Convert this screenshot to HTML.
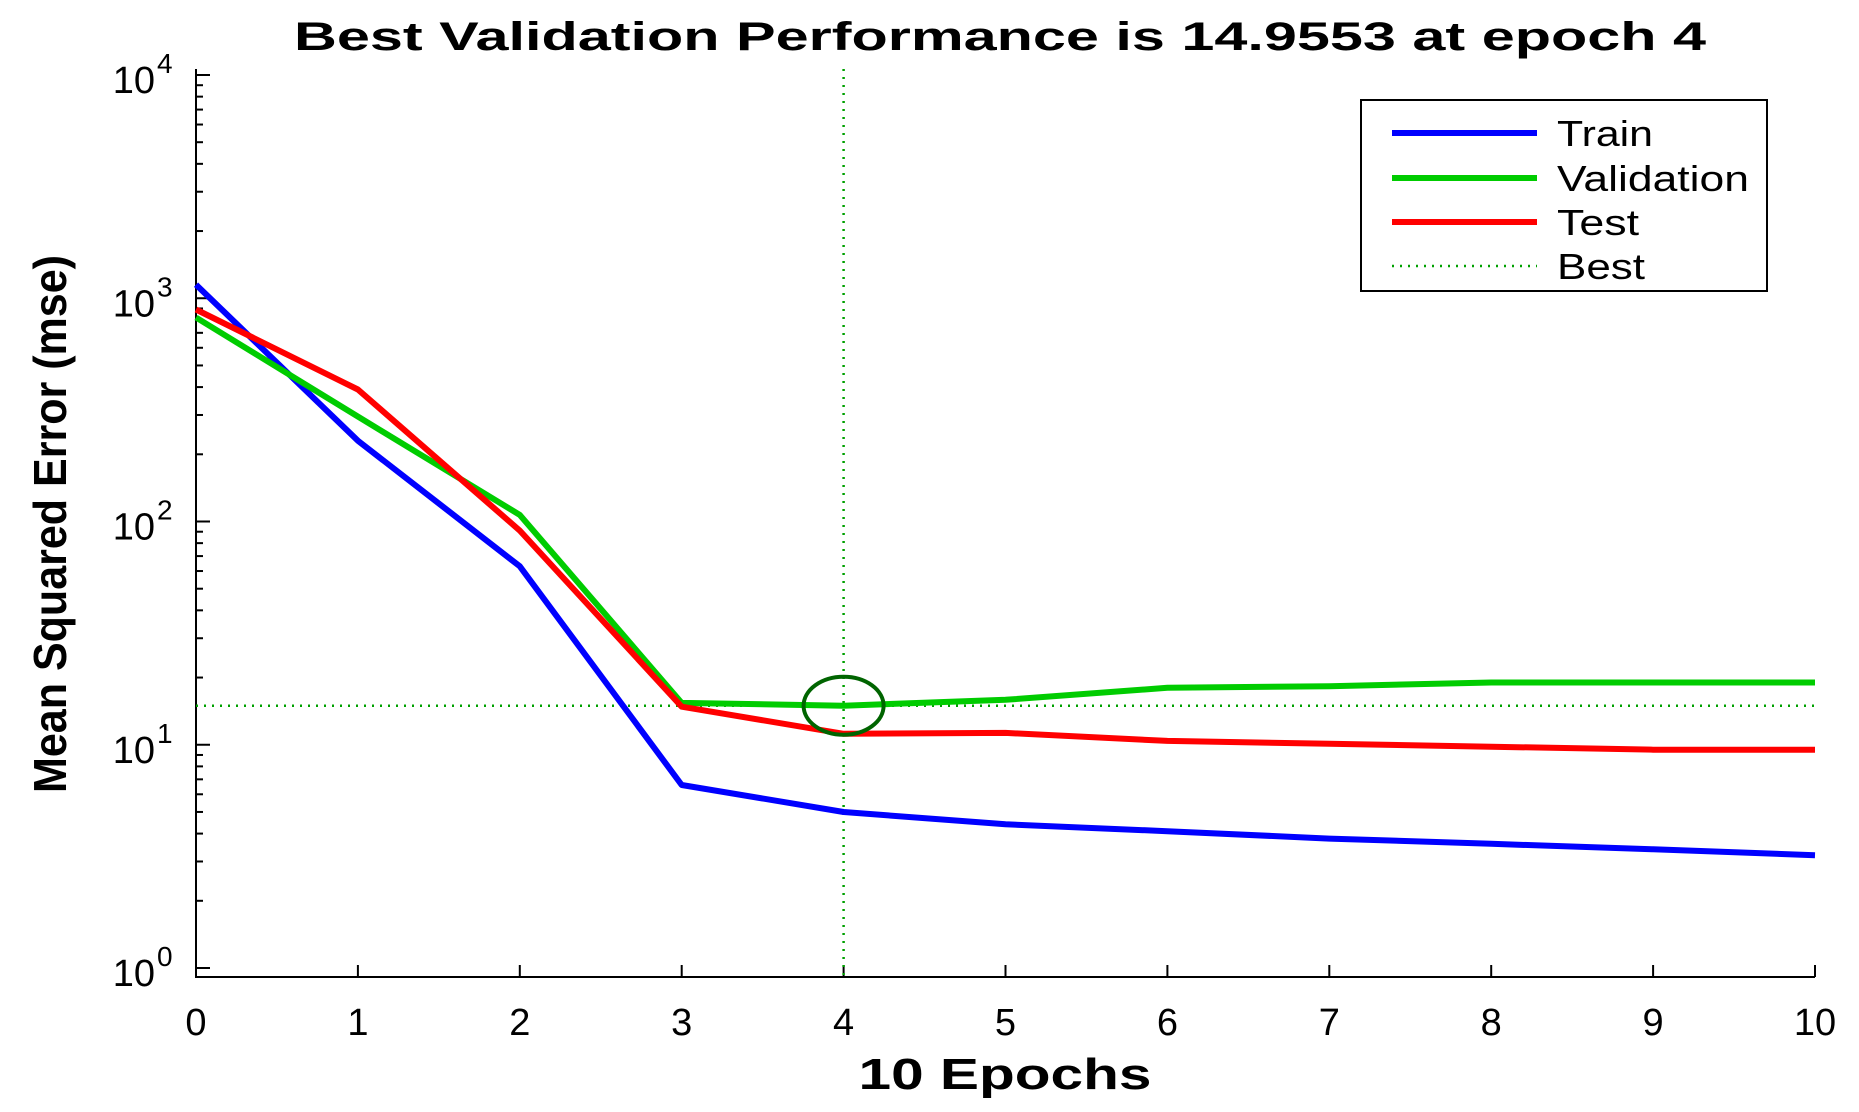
<!DOCTYPE html>
<html><head><meta charset="utf-8"><style>
html,body{margin:0;padding:0;background:#fff;}
svg{display:block;font-family:"Liberation Sans",Arial,sans-serif;}
</style></head><body>
<svg id="chart" width="1859" height="1112" viewBox="0 0 1859 1112">
<g id="g"></g>
</svg>
<script>
const epochs=[0,1,2,3,4,5,6,7,8,9,10];
const trainVals=[1150,230,63,6.6,5.0,4.4,4.1,3.8,3.6,3.4,3.2];
const valVals=[820,295,107,15.4,14.9553,15.9,18,18.3,19,19,19];
const testVals=[890,390,91,14.8,11.2,11.3,10.4,10.1,9.8,9.5,9.5];
const bestEpoch=4;
const bestValue=14.9553;
const xTickLabels=["0","1","2","3","4","5","6","7","8","9","10"];
const yTickExps=[0,1,2,3,4];

const NS="http://www.w3.org/2000/svg";
const g=document.getElementById('g');
const X0=196,X1=1815,Ytop=69,Ybot=977;
const Y0=968,Y4=75;
function xs(v){return X0+(v-0)/(10-0)*(X1-X0);}
function ys(v){const l=Math.log10(v);return Y0-l/4*(Y0-Y4);}
function el(tag,attrs,txt){const e=document.createElementNS(NS,tag);for(const k in attrs)e.setAttribute(k,attrs[k]);if(txt!==undefined)e.textContent=txt;g.appendChild(e);return e;}

let t=el('text',{x:1000,y:50,'text-anchor':'middle','font-size':40,'font-weight':'bold',textLength:1412,lengthAdjust:'spacingAndGlyphs'},'Best Validation Performance is 14.9553 at epoch 4');


let ax=el('path',{d:`M${X0},${Ytop}V${Ybot}H${X1}`,stroke:'#000','stroke-width':2,fill:'none'});


epochs.forEach((e,i)=>{
  const x=xs(e);
  const tk=el('line',{x1:x,x2:x,y1:Ybot,y2:Ybot-12,stroke:'#000','stroke-width':2});
  
  const lb=el('text',{x:x,y:1035,'text-anchor':'middle','font-size':38},xTickLabels[i]);
  
});
yTickExps.forEach(p=>{
  const y=ys(Math.pow(10,p));
  const tk=el('line',{x1:X0,x2:X0+14,y1:y,y2:y,stroke:'#000','stroke-width':2});
  
  const lb=el('text',{x:155,y:y+18,'text-anchor':'end','font-size':38},'10');
  
  const sp=el('text',{x:157,y:y-2,'font-size':28},String(p));
  
  if(p<4){for(let m=2;m<=9;m++){const yy=ys(m*Math.pow(10,p));
    const mt=el('line',{x1:X0,x2:X0+7,y1:yy,y2:yy,stroke:'#000','stroke-width':2});
    }}
});

let xl=el('text',{x:1005,y:1089,'text-anchor':'middle','font-size':44,'font-weight':'bold',textLength:293,lengthAdjust:'spacingAndGlyphs'},'10 Epochs');

let yl=el('text',{x:0,y:0,'text-anchor':'middle','font-size':46,'font-weight':'bold',transform:'translate(66,524) rotate(-90)',textLength:538,lengthAdjust:'spacingAndGlyphs'},'Mean Squared Error  (mse)');


let bh=el('line',{x1:X0,x2:X1,y1:ys(bestValue),y2:ys(bestValue),stroke:'#00a000','stroke-width':2.5,'stroke-dasharray':'2 6'});

let bv=el('line',{x1:xs(bestEpoch),x2:xs(bestEpoch),y1:Ytop,y2:Ybot,stroke:'#00a000','stroke-width':2.5,'stroke-dasharray':'2 6'});


function series(vals,color,name){
  const d=vals.map((v,i)=>(i?'L':'M')+xs(epochs[i]).toFixed(1)+','+ys(v).toFixed(1)).join('');
  const p=el('path',{d:d,stroke:color,'stroke-width':6,fill:'none','stroke-linejoin':'round'});
  
}
series(trainVals,'#0000ff','train-line');
series(valVals,'#00cc00','validation-line');
series(testVals,'#ff0000','test-line');

let c=el('ellipse',{cx:xs(bestEpoch),cy:ys(bestValue),rx:40,ry:29,stroke:'#006400','stroke-width':4,fill:'none'});


let lbx=el('rect',{x:1361,y:100,width:406,height:191,fill:'#fff',stroke:'#000','stroke-width':2});

const legNames=['Train','Validation','Test','Best'];
const legColors=['#0000ff','#00cc00','#ff0000','#00a000'];
const legYs=[133,178,222,266];
const legW=[96,192,82,88];
legNames.forEach((n,i)=>{
  const ln=el('line',{x1:1392,x2:1537,y1:legYs[i],y2:legYs[i],stroke:legColors[i],'stroke-width':i<3?6:2.5,'stroke-dasharray':i<3?'none':'2 6'});
  
  const tx=el('text',{x:1557,y:legYs[i]+13,'font-size':36,textLength:legW[i],lengthAdjust:'spacingAndGlyphs'},n);
  
});
</script>
</body></html>
